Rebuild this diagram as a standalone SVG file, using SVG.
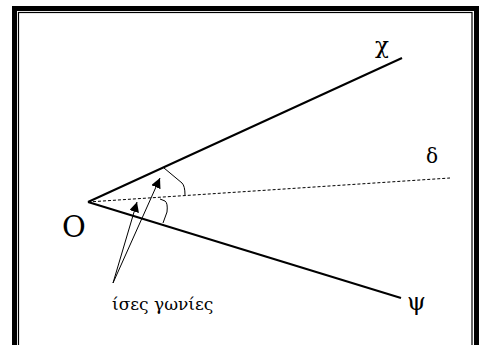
<svg xmlns="http://www.w3.org/2000/svg" width="486" height="345" viewBox="0 0 486 345">
<defs>
<style>
.lbl{fill:#000}
.ray{stroke:#000;stroke-width:2;fill:none}
.thin{stroke:#000;stroke-width:1;fill:none}
</style>
<marker id="ah" viewBox="0 0 10 10" refX="10" refY="5" markerWidth="10" markerHeight="10" markerUnits="userSpaceOnUse" orient="auto">
<path d="M0,0 L10,5 L0,10 z" fill="#000"/>
</marker>
</defs>
<rect width="486" height="345" fill="#fff"/>
<g id="frame">
<rect x="14.5" y="8.5" width="462" height="345" fill="none" stroke="#000" stroke-width="5"/>
<rect x="18.5" y="12.5" width="453.5" height="340" fill="none" stroke="#000" stroke-width="1.2"/>
</g>
<g id="connectors">
<line class="ray" x1="88" y1="202" x2="402" y2="58"/>
<line class="ray" x1="88" y1="202" x2="401" y2="298"/>
<line x1="88" y1="202" x2="450" y2="178" stroke="#000" stroke-width="1" stroke-dasharray="3,2"/>
<path class="thin" d="M164,168 L182,183 Q185,186 185,195"/>
<path class="thin" d="M160,199 L165,201 Q168,203 167,212 L163,223"/>
<line class="thin" x1="113" y1="283" x2="160" y2="178" marker-end="url(#ah)"/>
<line class="thin" x1="113" y1="283" x2="137" y2="202" marker-end="url(#ah)"/>
</g>
<g id="labels" font-family="'DejaVu Serif', serif">
<text class="lbl" x="375" y="53" font-size="23">χ</text>
<text class="lbl" x="426" y="163" font-size="20">δ</text>
<text class="lbl" x="407" y="310" font-size="24">ψ</text>
<text class="lbl" x="62" y="237" font-size="29">O</text>
<text class="lbl" x="112" y="310" font-size="17">ίσες γωνίες</text>
</g>
</svg>
